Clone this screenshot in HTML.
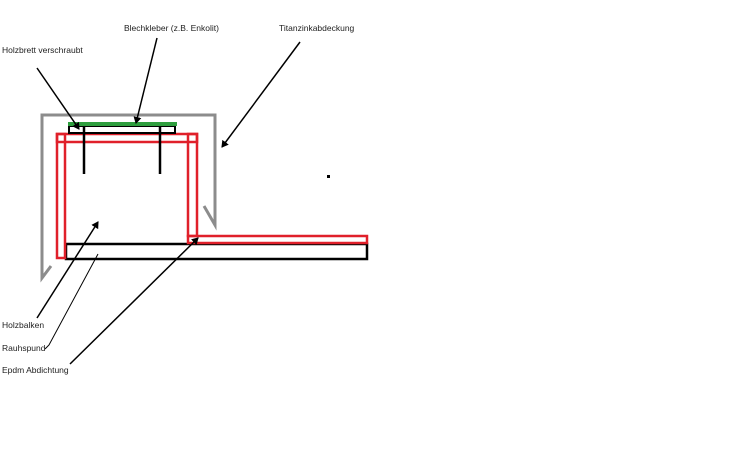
<!DOCTYPE html>
<html><head><meta charset="utf-8"><style>
html,body{margin:0;padding:0;background:#fff;}
svg{display:block;}
text{font-family:"Liberation Sans",sans-serif;font-size:8.5px;fill:#222;}
</style></head><body>
<svg width="750" height="469" viewBox="0 0 750 469" xmlns="http://www.w3.org/2000/svg">
<defs><marker id="a" markerWidth="8" markerHeight="8" refX="6" refY="4" orient="auto" markerUnits="userSpaceOnUse"><path d="M0,0 L7,4 L0,8 z" fill="#000"/></marker></defs>
<!-- gray cap -->
<polyline points="51,266 42,278 42,115 215,115 215,225 204,206" fill="none" stroke="#8c8c8c" stroke-width="3"/>
<!-- bottom black rect -->
<rect x="66" y="244" width="301" height="15" fill="none" stroke="#000" stroke-width="2.5"/>
<!-- red epdm -->
<rect x="57" y="134" width="140" height="8" fill="none" stroke="#e0202a" stroke-width="2.5"/>
<rect x="57" y="134" width="8" height="124" fill="none" stroke="#e0202a" stroke-width="2.5"/>
<rect x="188" y="134" width="9" height="102" fill="none" stroke="#e0202a" stroke-width="2.5"/>
<rect x="188" y="236" width="179" height="7" fill="none" stroke="#e0202a" stroke-width="2.5"/>
<!-- board -->
<rect x="69" y="126" width="106" height="7" fill="none" stroke="#000" stroke-width="2"/>
<line x1="68" y1="124" x2="177" y2="124" stroke="#2e9e3e" stroke-width="4"/>
<line x1="84" y1="126" x2="84" y2="174" stroke="#000" stroke-width="2.5"/>
<line x1="160" y1="126" x2="160" y2="174" stroke="#000" stroke-width="2.5"/>
<rect x="327" y="175" width="3" height="3" fill="#000"/>
<!-- labels -->
<text x="2" y="53">Holzbrett verschraubt</text>
<text x="124" y="31">Blechkleber (z.B. Enkolit)</text>
<text x="279" y="31">Titanzinkabdeckung</text>
<text x="2" y="328">Holzbalken</text>
<text x="2" y="351">Rauhspund</text>
<text x="2" y="373">Epdm Abdichtung</text>
<!-- arrows -->
<line x1="37" y1="68" x2="79" y2="129" stroke="#000" stroke-width="1.5" marker-end="url(#a)"/>
<line x1="157" y1="38" x2="136" y2="123" stroke="#000" stroke-width="1.5" marker-end="url(#a)"/>
<line x1="300" y1="42" x2="222" y2="147" stroke="#000" stroke-width="1.5" marker-end="url(#a)"/>
<line x1="37" y1="318" x2="98" y2="222" stroke="#000" stroke-width="1.5" marker-end="url(#a)"/>
<polyline points="45,349 49,345 98,254" fill="none" stroke="#000" stroke-width="1"/>
<line x1="70" y1="364" x2="198" y2="238" stroke="#000" stroke-width="1.5" marker-end="url(#a)"/>
</svg>
</body></html>
